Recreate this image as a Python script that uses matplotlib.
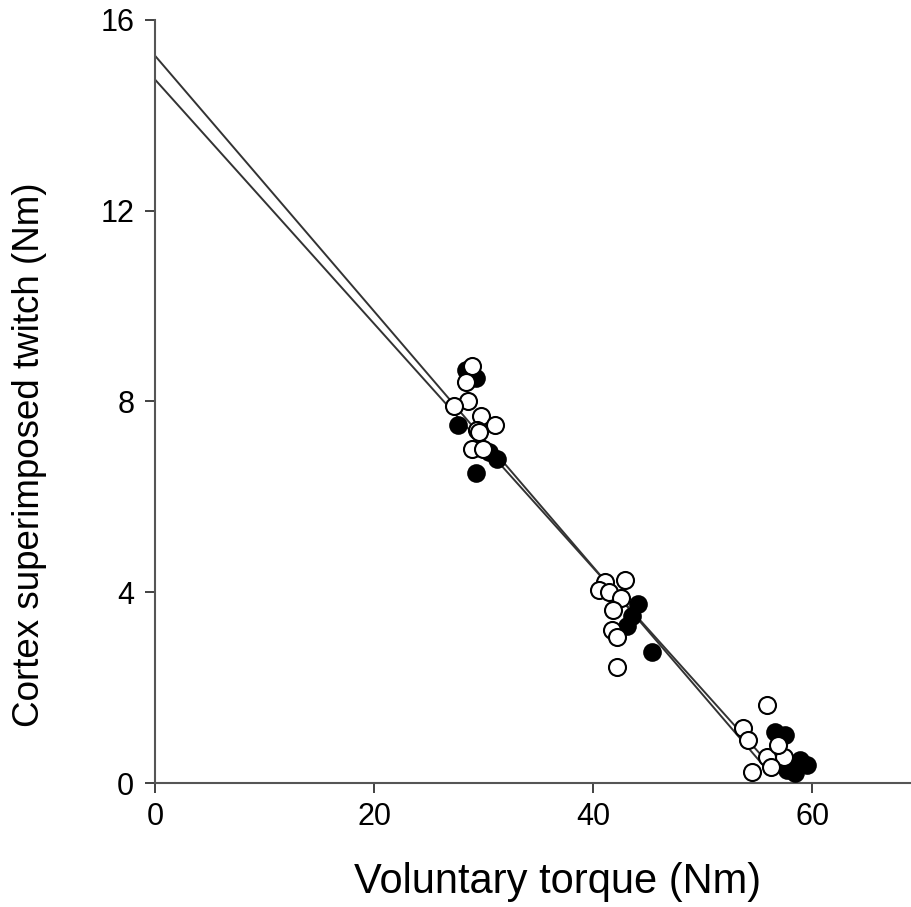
import numpy as np
import matplotlib.pyplot as plt

plt.rcParams["font.family"] = ["Liberation Sans", "DejaVu Sans"]

# open circles
open_x = [28.9, 28.4, 28.6, 27.3, 29.8, 31.0, 29.4, 28.9, 29.9, 29.6,
          41.1, 42.9, 40.5, 41.4, 42.5, 41.8, 41.7, 42.2, 42.2,
          55.9, 53.7, 54.1, 55.9, 57.4, 54.5, 56.2, 56.9]
open_y = [8.75, 8.4, 8.0, 7.9, 7.7, 7.5, 7.4, 7.0, 7.0, 7.35,
          4.22, 4.25, 4.05, 4.0, 3.88, 3.63, 3.2, 3.07, 2.43,
          1.64, 1.15, 0.9, 0.55, 0.55, 0.23, 0.34, 0.8]

# filled circles
fill_x = [28.4, 29.3, 27.7, 29.3, 31.2, 30.5,
          44.1, 43.5, 43.1, 45.4,
          56.6, 57.5, 58.9, 59.5, 57.7, 58.4]
fill_y = [8.65, 8.5, 7.5, 6.5, 6.8, 6.95,
          3.75, 3.5, 3.3, 2.75,
          1.07, 1.0, 0.48, 0.38, 0.27, 0.2]

# regression lines (intercept, slope), drawn from 0 to x_end
fits = [(15.25, -0.268), (14.75, -0.256)]
x_end = 55.5

fig = plt.figure(figsize=(9.12, 9.07), dpi=100)
ax = fig.add_axes([0.17, 0.1367, 0.83, 0.8413])

xs = np.array([0, x_end])
for b, m in fits:
    ax.plot(xs, b + m * xs, color="#333333", lw=1.4, zorder=2)

ax.scatter(fill_x, fill_y, s=150, facecolor="black", edgecolor="black",
           linewidth=1.2, zorder=3)
ax.scatter(open_x, open_y, s=150, facecolor="white", edgecolor="black",
           linewidth=1.5, zorder=4)

ax.set_xlim(0, 69.1)
ax.set_ylim(0, 16)
ax.set_xticks([0, 20, 40, 60])
ax.set_yticks([0, 4, 8, 12, 16])
ax.spines["top"].set_visible(False)
ax.spines["right"].set_visible(False)
for s in ["left", "bottom"]:
    ax.spines[s].set_color("#555555")
    ax.spines[s].set_linewidth(1.5)
ax.tick_params(direction="out", length=7, width=1.3, color="#333333",
               labelsize=22, pad=7)
ax.tick_params(axis="y", pad=8)
ax.set_xlabel("Voluntary torque (Nm)", fontsize=30)
ax.set_ylabel("Cortex superimposed twitch (Nm)", fontsize=26.5)
ax.xaxis.set_label_coords(0.532, -0.104)
ax.yaxis.set_label_coords(-0.143, 0.43)

fig.savefig("out.png", dpi=100)
